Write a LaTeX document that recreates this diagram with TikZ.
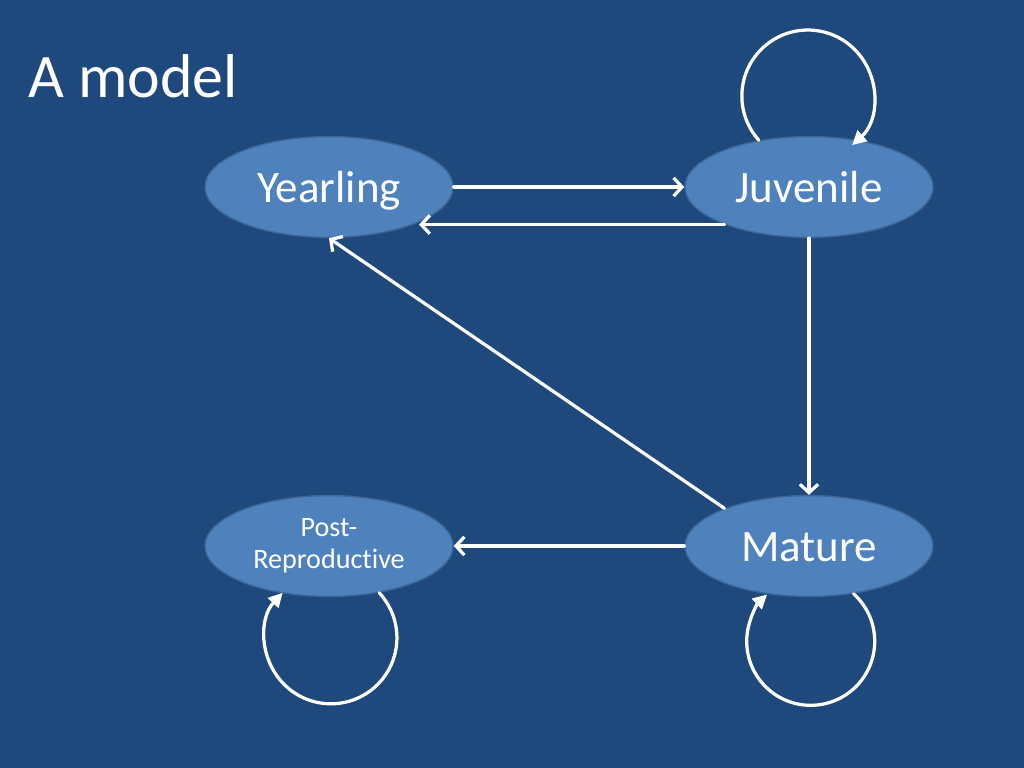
\documentclass[tikz,border=0pt]{standalone}
\usepackage{fontspec}
\setmainfont{Carlito}[Ligatures=NoCommon]
\usetikzlibrary{arrows.meta}
\usetikzlibrary{shapes.geometric}

\begin{document}
\begin{tikzpicture}
			[x=0.025cm,y=-0.025cm,line cap=round,
			%Styles
			state/.style={ellipse,draw=stateborder,line width=1pt,fill=statefill,text=white,
				minimum width=6.2cm,minimum height=2.52cm,inner sep=0pt},
			big state/.style={state,text height=22pt,text depth=0pt,font=\fontsize{32}{36}\selectfont},
			small state/.style={state,align=center,font=\fontsize{20}{23}\selectfont},
			flow/.style={white,line width=2.3pt,-{Straight Barb[length=6pt,width=13pt]}},
			self arc/.style={white,line width=2.3pt,-{Triangle[length=10pt,width=10pt]}},
			title text/.style={text=white,anchor=base west,inner sep=0pt,font=\fontsize{44}{50}\selectfont}
			]
			
			%Colors
			\definecolor{bgblue}{RGB}{31,73,125}
			\definecolor{statefill}{RGB}{79,129,189}
			\definecolor{stateborder}{RGB}{60,103,150}
			
			%The graphic
			\fill[bgblue] (0,0) rectangle (1024,768);
			
			\node[title text] (title) at (28,98) {A model};
			
			\node[big state] (yearling) at (329,187) {Yearling};
			\node[big state] (juvenile) at (809,187) {Juvenile};
			\node[big state] (mature) at (809,546) {Mature};
			\node[small state] (postrep) at (329,546) {Post-\\Reproductive};
			
			\draw[flow] (yearling) -- (juvenile);
			\draw[flow,shorten >=4pt] (juvenile.204) -- (yearling.-24);
			\draw[flow] (juvenile) -- (mature);
			\draw[flow] (mature.156) -- (yearling.south);
			\draw[flow] (mature) -- (postrep);
			
			\draw[self arc] (juvenile.137) arc[start angle=138,end angle=408,radius=66];
			\draw[self arc] (mature.-47) arc[start angle=-48,end angle=227,radius=64];
			\draw[self arc] (postrep.-43) arc[start angle=-43,end angle=223,radius=66];
		\end{tikzpicture}
\end{document}
